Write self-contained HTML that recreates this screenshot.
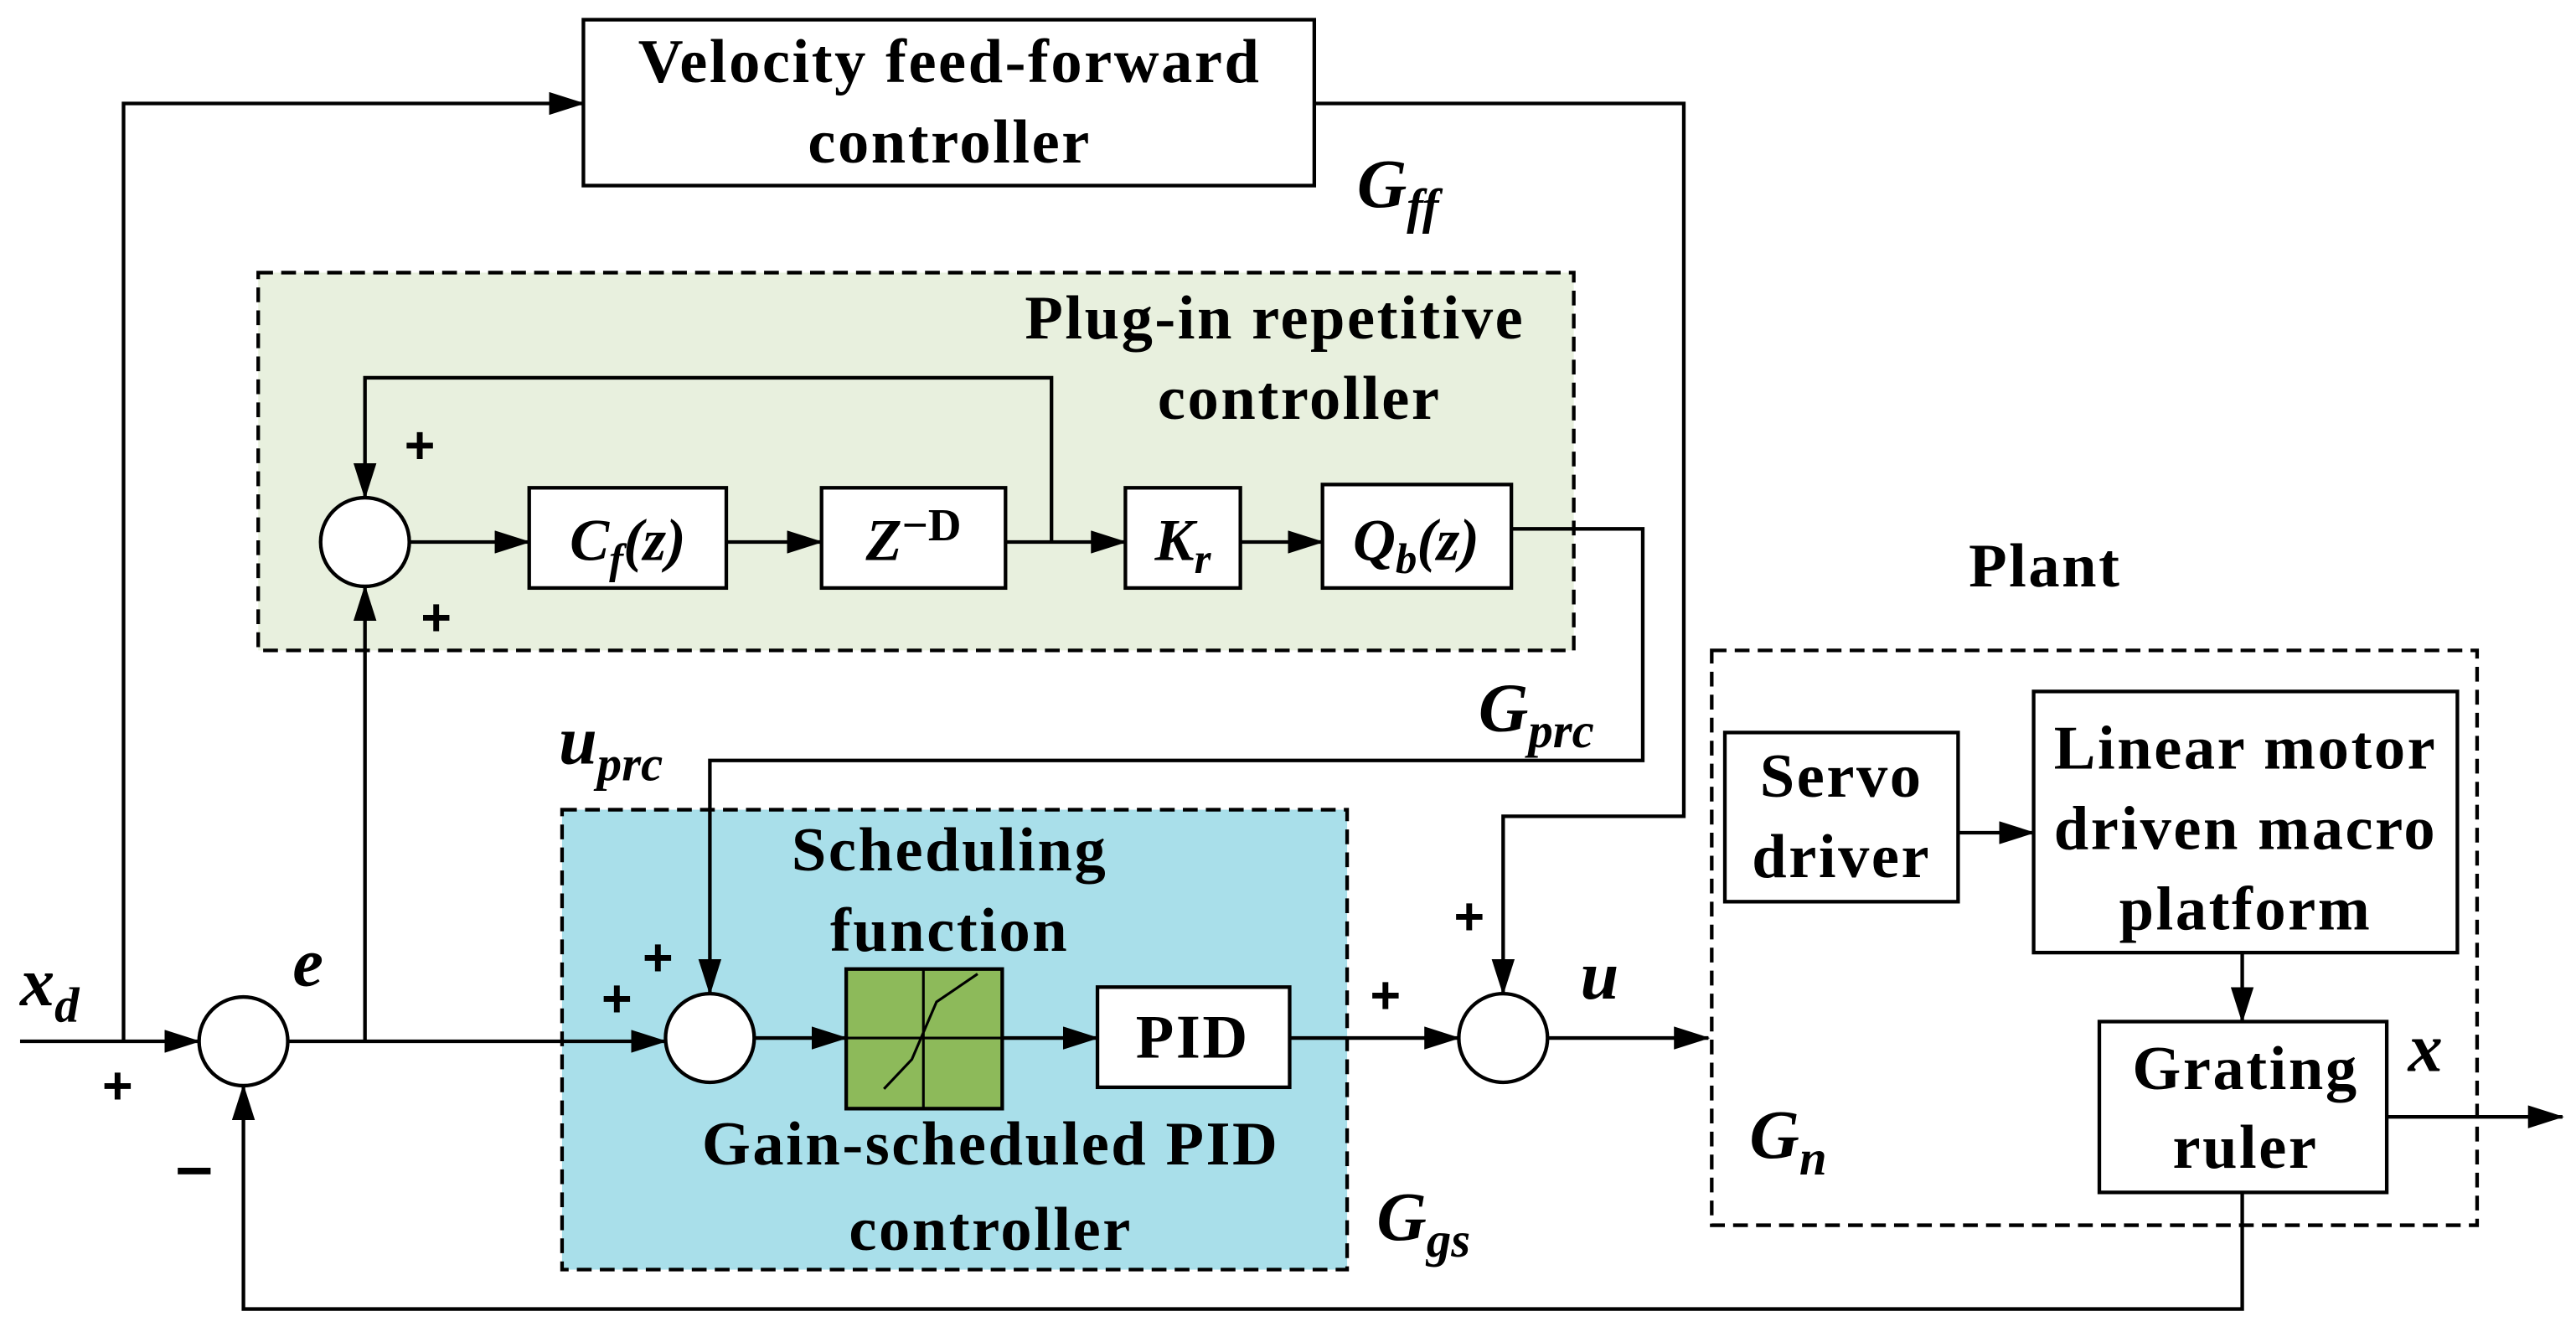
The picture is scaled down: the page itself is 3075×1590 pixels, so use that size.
<!DOCTYPE html>
<html><head><meta charset="utf-8"><style>html,body{margin:0;padding:0;background:#fff}svg{display:block}</style></head>
<body>
<svg width="3075" height="1590" viewBox="0 0 1568 811" xmlns="http://www.w3.org/2000/svg" font-family="'Liberation Serif',serif" font-weight="bold">
<defs>
<marker id="b" markerWidth="22" markerHeight="14" refX="21" refY="7" orient="auto" markerUnits="userSpaceOnUse"><path d="M0,0 L22,7 L0,14 Z" fill="#000"/></marker></defs>
<g stroke="#000" stroke-width="2.2" fill="none">
<rect x="157" y="166" width="801" height="230" fill="#e8f0de" stroke-dasharray="9,5"/>
<rect x="342" y="493" width="478" height="280" fill="#a9dfea" stroke-dasharray="9,5"/>
<rect x="1042" y="396" width="466" height="350" stroke-dasharray="9,5"/>
<rect x="355" y="12" width="445" height="101" fill="#fff"/>
<rect x="322" y="297" width="120" height="61" fill="#fff"/>
<rect x="500" y="297" width="112" height="61" fill="#fff"/>
<rect x="685" y="297" width="70" height="61" fill="#fff"/>
<rect x="805" y="295" width="115" height="63" fill="#fff"/>
<rect x="515" y="590" width="95" height="85" fill="#8dba5a"/>
<path d="M515,632 H610 M562,590 V675 M538,663 L555,645 L570,610 L595,593" stroke-width="1.6"/>
<rect x="668" y="601" width="117" height="61" fill="#fff"/>
<rect x="1050" y="446" width="142" height="103" fill="#fff"/>
<rect x="1238" y="421" width="258" height="159" fill="#fff"/>
<rect x="1278" y="622" width="175" height="104" fill="#fff"/>
<circle cx="222" cy="330" r="27" fill="#fff"/>
<circle cx="148" cy="634" r="27" fill="#fff"/>
<circle cx="432" cy="632" r="27" fill="#fff"/>
<circle cx="915" cy="632" r="27" fill="#fff"/>
<path d="M75,634 V63 H355" marker-end="url(#b)"/>
<path d="M800,63 H1025 V497 H915 V605" marker-end="url(#b)"/>
<path d="M249,330 H322" marker-end="url(#b)"/>
<path d="M442,330 H500" marker-end="url(#b)"/>
<path d="M612,330 H685" marker-end="url(#b)"/>
<path d="M755,330 H805" marker-end="url(#b)"/>
<path d="M640,330 V230 H222 V303" marker-end="url(#b)"/>
<path d="M920,322 H1000 V463 H432 V605" marker-end="url(#b)"/>
<path d="M12,634 H121" marker-end="url(#b)"/>
<path d="M175,634 H405" marker-end="url(#b)"/>
<path d="M222,634 V357" marker-end="url(#b)"/>
<path d="M459,632 H515" marker-end="url(#b)"/>
<path d="M610,632 H668" marker-end="url(#b)"/>
<path d="M785,632 H888" marker-end="url(#b)"/>
<path d="M942,632 H1040" marker-end="url(#b)"/>
<path d="M1192,507 H1238" marker-end="url(#b)"/>
<path d="M1365,580 V622" marker-end="url(#b)"/>
<path d="M1453,680 H1560" marker-end="url(#b)"/>
<path d="M1365,726 V797 H148 V661" marker-end="url(#b)"/>
</g>
<g font-size="38" letter-spacing="1.3" text-anchor="middle" fill="#000">
<text x="578" y="50">Velocity feed-forward</text>
<text x="578" y="99">controller</text>
<text x="776" y="206">Plug-in repetitive</text>
<text x="791" y="255">controller</text>
<text x="578" y="530">Scheduling</text>
<text x="578" y="579">function</text>
<text x="603" y="709">Gain-scheduled PID</text>
<text x="603" y="761">controller</text>
<text x="726" y="644">PID</text>
<text x="1121" y="485">Servo</text>
<text x="1121" y="534">driver</text>
<text x="1367" y="468">Linear motor</text>
<text x="1367" y="517">driven macro</text>
<text x="1367" y="566">platform</text>
<text x="1367" y="663">Grating</text>
<text x="1367" y="711">ruler</text>
<text x="1245" y="357">Plant</text>
</g>
<g font-size="36" text-anchor="middle" fill="#000">
<text x="382" y="341" font-style="italic">C<tspan font-size="26" dy="8">f</tspan><tspan dy="-8">(z)</tspan></text>
<text x="556" y="341" font-style="italic">Z<tspan font-style="normal" font-size="28" dy="-12">−D</tspan></text>
<text x="720" y="341" font-style="italic">K<tspan font-size="26" dy="8">r</tspan></text>
<text x="862" y="341" font-style="italic">Q<tspan font-size="26" dy="8">b</tspan><tspan dy="-8">(z)</tspan></text>
</g>
<g font-size="42" font-style="italic" fill="#000">
<text x="826" y="126">G<tspan font-size="30" dy="10">ff</tspan></text>
<text x="900" y="445">G<tspan font-size="30" dy="10">prc</tspan></text>
<text x="340" y="465">u<tspan font-size="30" dy="10">prc</tspan></text>
<text x="838" y="755">G<tspan font-size="30" dy="10">gs</tspan></text>
<text x="1065" y="705">G<tspan font-size="30" dy="10">n</tspan></text>
<text x="12" y="612">x<tspan font-size="30" dy="10">d</tspan></text>
<text x="178" y="600">e</text>
<text x="962" y="608">u</text>
<text x="1466" y="652">x</text>
</g>
<g font-size="32" fill="#000" font-family="'Liberation Sans',sans-serif">
<text x="246" y="282">+</text><text x="256" y="387">+</text>
<text x="62" y="672">+</text><text x="366" y="619">+</text><text x="391" y="594">+</text>
<text x="834" y="617">+</text><text x="885" y="569">+</text>
</g>
<rect x="108" y="711" width="20" height="4" fill="#000"/>
</svg>
</body></html>
